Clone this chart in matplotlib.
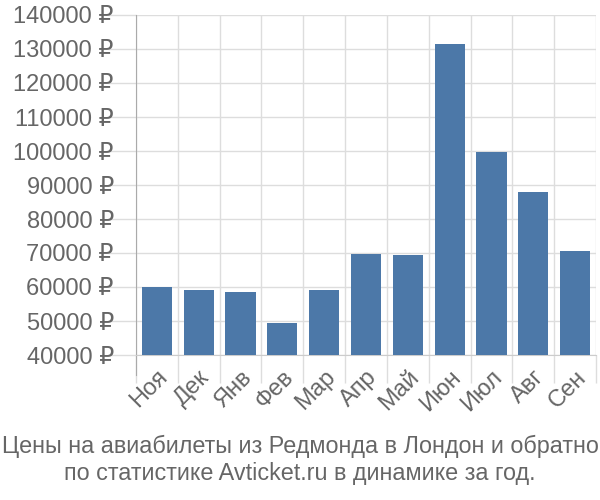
import matplotlib
matplotlib.use("Agg")
import matplotlib.pyplot as plt
import numpy as np

plt.rcParams['font.family'] = ['Liberation Sans', 'DejaVu Sans']

months = ['Ноя', 'Дек', 'Янв', 'Фев', 'Мар', 'Апр', 'Май', 'Июн', 'Июл', 'Авг', 'Сен']
prices = [59900, 59100, 58600, 49400, 59200, 69600, 69500, 131500, 99700, 88000, 70700]
yticks = list(range(40000, 140001, 10000))
title = 'Цены на авиабилеты из Редмонда в Лондон и обратно\nпо статистике Avticket.ru в динамике за год.'

grid_c = '#dddddd'
text_c = '#666666'

fig = plt.figure(figsize=(6, 5), dpi=100)
ax = fig.add_axes([136/600, 1-355/500, 460/600, 340/500])

x = np.arange(len(months))
ax.bar(x, np.array(prices) - 40000, bottom=40000, width=0.72, color='#4c78a8', zorder=3)

ax.set_xlim(-0.5, len(months) - 0.5)
ax.set_ylim(40000, 140000)
ax.set_yticks(yticks)
ax.set_yticklabels(['{} ₽'.format(v) for v in yticks], fontsize=17, color=text_c)
ax.set_xticks(x)
ax.set_xticklabels(months, rotation=45, ha='right', rotation_mode='anchor', fontsize=17, color=text_c)
ax.tick_params(axis='x', which='major', length=0, pad=8)
ax.set_xticks(np.arange(-0.5, len(months), 1), minor=True)
ax.tick_params(axis='x', which='minor', length=20, color=grid_c, width=1)
ax.tick_params(axis='y', length=20, color=grid_c, width=1, pad=-4)

ax.grid(True, axis='y', color=grid_c, lw=1, zorder=0)
ax.grid(True, axis='x', which='minor', color=grid_c, lw=1, zorder=0)

for s in ['top', 'right']:
    ax.spines[s].set_visible(False)
ax.spines['bottom'].set_color('#cccccc')
ax.spines['left'].set_color('#aaaaaa')
ax.spines['left'].set_bounds(34000, 140000)

fig.text(0.5, 0.08, title, ha='center', va='center', fontsize=16.8, color=text_c, linespacing=1.2)

plt.savefig('out.png')
